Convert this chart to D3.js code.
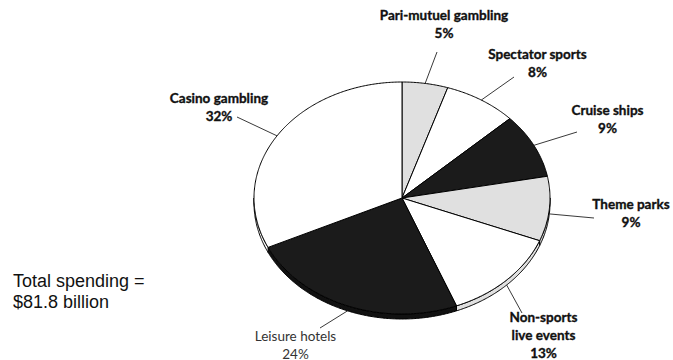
<!DOCTYPE html>
<html>
<head>
<meta charset="utf-8">
<script src="https://cdn.jsdelivr.net/npm/d3@7"></script>
<style>
  html, body { margin: 0; padding: 0; background: #fff; }
  svg { display: block; }
</style>
</head>
<body>
<svg id="chart" width="673" height="360"></svg>
<script>
// Leisure spending shares, clockwise from 12 o'clock
const categories = ["Pari-mutuel gambling", "Spectator sports", "Cruise ships", "Theme parks",
                    "Non-sports live events", "Leisure hotels", "Casino gambling"];
const shares = [5, 8, 9, 9, 13, 24, 32];
const labelLines = [["Pari-mutuel gambling"], ["Spectator sports"], ["Cruise ships"], ["Theme parks"],
                    ["Non-sports", "live events"], ["Leisure hotels"], ["Casino gambling"]];
const totalNote = ["Total spending =", "$81.8 billion"];

// Styles
const topFill = d3.scaleOrdinal(categories, ["#e0e0e0", "#ffffff", "#1b1b1b", "#e0e0e0", "#ffffff", "#1b1b1b", "#ffffff"]);
const sideFill = d3.scaleOrdinal(categories, ["#d4d4d4", "#e0e0e0", "#111111", "#d4d4d4", "#e0e0e0", "#111111", "#ffffff"]);
const boldLabel = d3.scaleOrdinal(categories, [true, true, true, true, true, false, true]);

// Label layout: centre x, first baseline, outer end of the leader line
const labelLayout = {
  "Pari-mutuel gambling":   { x: 444,   y: 20,    lx: 437, ly: 52 },
  "Spectator sports":       { x: 537.5, y: 58.5,  lx: 514, ly: 77 },
  "Cruise ships":           { x: 607.5, y: 115,   lx: 577, ly: 132 },
  "Theme parks":            { x: 631,   y: 208.5, lx: 594, ly: 218 },
  "Non-sports live events": { x: 543.5, y: 321.5, lx: 522, ly: 313 },
  "Leisure hotels":         { x: 295.5, y: 340.5, lx: 320, ly: 328 },
  "Casino gambling":        { x: 219,   y: 103,   lx: 237, ly: 117 }
};

const svg = d3.select("#chart");
const cx = 402, cy = 198, rx = 148, ry = 116, depth = 5;
const lineGap = 18;

const pie = d3.pie().sort(null).value(d => d)(shares);

// Point on the tilted rim for an angle measured clockwise from the top
const rim = (a, dy = 0) => [cx + rx * Math.sin(a), cy - ry * Math.cos(a) + dy];
const arcPoints = (a0, a1, dy = 0) => {
  const n = Math.max(2, Math.ceil((a1 - a0) / 0.01));
  return d3.range(n + 1).map(i => rim(a0 + (a1 - a0) * i / n, dy));
};
const line = d3.line();

const g = svg.append("g");

// Side walls (front half only)
pie.forEach((s, i) => {
  const a0 = Math.max(s.startAngle, Math.PI / 2);
  const a1 = Math.min(s.endAngle, 3 * Math.PI / 2);
  if (a0 >= a1) return;
  const pts = arcPoints(a0, a1).concat(arcPoints(a0, a1, depth).reverse());
  g.append("path")
    .attr("d", line(pts) + "Z")
    .attr("fill", sideFill(categories[i]))
    .attr("stroke", "#000")
    .attr("stroke-width", 1)
    .attr("stroke-linejoin", "round");
});

// Top faces
pie.forEach((s, i) => {
  const pts = [[cx, cy]].concat(arcPoints(s.startAngle, s.endAngle));
  g.append("path")
    .attr("d", line(pts) + "Z")
    .attr("fill", topFill(categories[i]))
    .attr("stroke", "#000")
    .attr("stroke-width", 1)
    .attr("stroke-linejoin", "round");
});

// Leader lines and labels
const labels = svg.append("g").attr("font-family", "Lato, 'Open Sans', sans-serif").attr("font-size", 13.5);
pie.forEach((s, i) => {
  const name = categories[i];
  const L = labelLayout[name];
  const mid = (s.startAngle + s.endAngle) / 2;
  const inner = rim(mid, Math.cos(mid) < 0 ? depth : 0);
  labels.append("line")
    .attr("x1", L.lx).attr("y1", L.ly)
    .attr("x2", inner[0]).attr("y2", inner[1])
    .attr("stroke", "#222").attr("stroke-width", 0.9);
  const lines = labelLines[i].concat([shares[i] + "%"]);
  const bold = boldLabel(name);
  labels.append("text")
    .attr("text-anchor", "middle")
    .attr("font-weight", bold ? 700 : 400)
    .attr("fill", bold ? "#111" : "#333")
    .attr("stroke", bold ? "#111" : "none")
    .attr("stroke-width", 0.35)
    .selectAll("tspan")
    .data(lines)
    .join("tspan")
    .attr("x", L.x)
    .attr("y", (d, k) => L.y + k * lineGap)
    .text(d => d);
});

// Total note
svg.append("text")
  .attr("font-family", "'Liberation Sans', Arial, sans-serif")
  .attr("font-size", 18)
  .attr("fill", "#111")
  .selectAll("tspan")
  .data(totalNote)
  .join("tspan")
  .attr("x", 13)
  .attr("y", (d, k) => 287 + k * 21)
  .text(d => d);
</script>
</body>
</html>
